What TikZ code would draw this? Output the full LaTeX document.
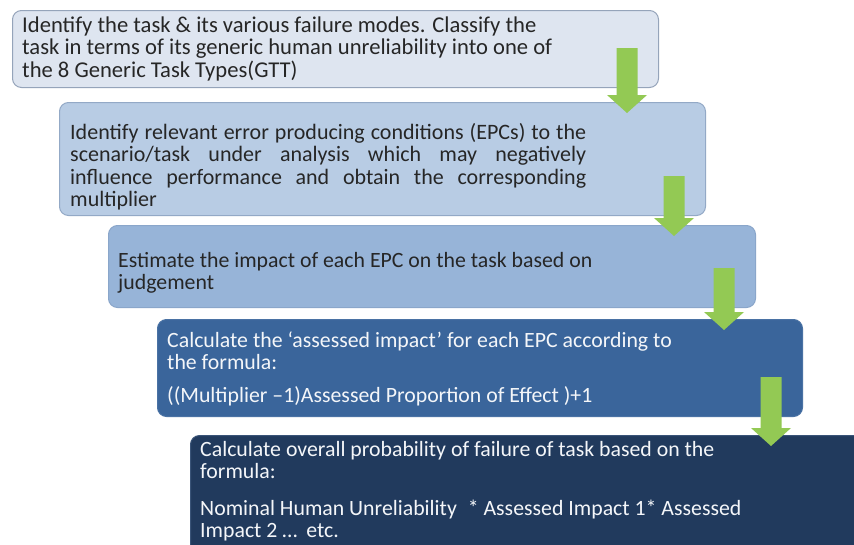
\documentclass[tikz,border=0pt]{standalone}
\usepackage{fontspec}
\setmainfont{Carlito}
\usetikzlibrary{calc}
\definecolor{fillA}{HTML}{DEE5F0}
\definecolor{lineA}{HTML}{95A4BA}
\definecolor{fillB}{HTML}{B8CCE4}
\definecolor{lineB}{HTML}{93A9C6}
\definecolor{fillC}{HTML}{97B4D8}
\definecolor{lineC}{HTML}{8AA6CA}
\definecolor{fillD}{HTML}{3A659B}
\definecolor{lineD}{HTML}{4A72A4}
\definecolor{fillE}{HTML}{213A5D}
\definecolor{lineE}{HTML}{3A5478}
\definecolor{flowgreen}{HTML}{93C954}
\definecolor{darktext}{HTML}{262626}
\definecolor{lighttext}{HTML}{F4F6F9}
\tikzset{
  stage/.style={rectangle, rounded corners=9pt, inner sep=0pt, anchor=north west, line width=1pt},
  txt/.style={anchor=base west, inner sep=0pt, font=\fontsize{21.8}{22.5}\selectfont},
}
\newcommand\flowarrow[2]{%
  \path ($(#1.south east)+(-32,-40)$) coordinate (#1-from)
        (#1-from |- #2.north) ++(0,11) coordinate (#1-to);
  \fill[flowgreen] ($(#1-from)+(-10.5,0)$) -- ($(#1-from)+(10.5,0)$)
     -- ($(#1-to)+(10.5,-18)$) -- ($(#1-to)+(20,-18)$) -- (#1-to)
     -- ($(#1-to)+(-20,-18)$) -- ($(#1-to)+(-10.5,-18)$) -- cycle;}
\begin{document}
\begin{tikzpicture}[x=1pt,y=-1pt]
\clip (0,0) rectangle (854,544);
\fill[white] (0,0) rectangle (854,544);
% boxes
\node[stage, draw=lineA, fill=fillA, minimum width=646, minimum height=77] (box1) at (12,10) {};
\node[stage, draw=lineB, fill=fillB, minimum width=646, minimum height=113] (box2) at (59,102) {};
\node[stage, draw=lineC, fill=fillC, minimum width=647, minimum height=82] (box3) at (108,225) {};
\node[stage, draw=lineD, fill=fillD, minimum width=645, minimum height=97] (box4) at (157,319) {};
\node[stage, draw=lineE, fill=fillE, minimum width=720, minimum height=140] (box5) at (190,435) {};
% texts
\node[txt, text=darktext, font=\fontsize{22.6}{22.5}\selectfont] (t1) at (22,32) {\parbox[t]{640pt}{\raggedright
Identify the task \& its various failure modes. Classify the\\
task in terms of its generic human unreliability into one of\\
the 8 Generic Task Types(GTT)}};
\node[txt, text=darktext, font=\fontsize{22}{22.5}\selectfont] (t2) at (70,139) {\parbox[t]{640pt}{\raggedright
\makebox[516pt][s]{Identify relevant error producing conditions (EPCs) to the}\\
\makebox[516pt][s]{scenario/task under analysis which may negatively}\\
\makebox[516pt][s]{influence performance and obtain the corresponding}\\
multiplier}};
\node[txt, text=darktext] (t3) at (118,267) {\parbox[t]{640pt}{\raggedright
Estimate the impact of each EPC on the task based on\\
judgement}};
\node[txt, text=lighttext] (t4) at (167,347) {\parbox[t]{640pt}{\raggedright
Calculate the ‘assessed impact’ for each EPC according to\\
the formula:\\[10pt]
((Multiplier –1)Assessed Proportion of Effect )+1}};
\node[txt, text=lighttext] (t5) at (200,456) {\parbox[t]{640pt}{\raggedright
Calculate overall probability of failure of task based on the\\
formula:\\[14pt]
Nominal Human Unreliability\hspace{6pt} * Assessed Impact 1* Assessed\\
Impact 2 …\hspace{4pt} etc.}};
% arrows
\flowarrow{box1}{box2}
\flowarrow{box2}{box3}
\flowarrow{box3}{box4}
\flowarrow{box4}{box5}
\end{tikzpicture}
\end{document}
